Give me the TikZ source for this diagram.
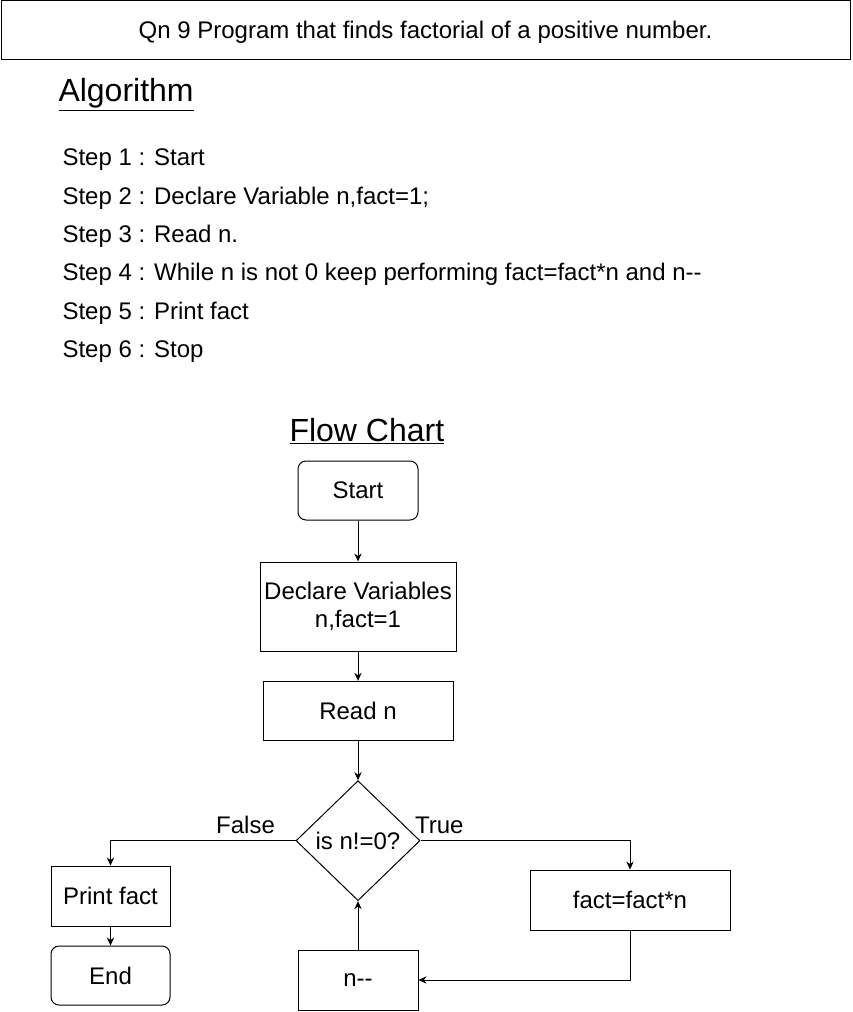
\documentclass[tikz,border=0pt]{standalone}
\usepackage{fontspec}
\setmainfont{Liberation Sans}
\usetikzlibrary{arrows.meta}
\usetikzlibrary{positioning}
\usetikzlibrary{shapes.geometric}

\begin{document}
\begin{tikzpicture}[x=0.75pt,y=-0.75pt,->,>={Stealth[length=6pt,width=5.5pt]},
					line width=0.75pt,font=\fontsize{18}{21}\selectfont]
					\tikzstyle{block}=[draw,align=center,inner sep=0pt]
					\tikzstyle{term}=[block,rounded corners=6pt]
					\tikzstyle{steptext}=[anchor=base west,inner sep=0pt]
					\tikzstyle{heading}=[anchor=base west,inner sep=0pt,font=\fontsize{24}{28}\selectfont]
					
					\useasboundingbox (0,0) rectangle (852,1012);
					
					\node[draw,minimum width=636.75pt,minimum height=44.25pt,text depth=1pt] (title) at (425.5,30.5)
					{Qn 9 Program that finds factorial of a positive number.};
					
					\node[heading] (algo) at (58,102) {\underline{Algorithm}};
					\node[steptext] (s1) at (62,165.5) {Step 1 : Start};
					\node[steptext] (s2) at (62,204.5) {Step 2 : Declare Variable n,fact=1;};
					\node[steptext] (s3) at (62,242.5) {Step 3 : Read n.};
					\node[steptext] (s4) at (62,280.5) {Step 4 : While n is not 0 keep performing fact=fact*n and n-{}-};
					\node[steptext] (s5) at (62,319.5) {Step 5 : Print fact};
					\node[steptext] (s6) at (62,357.5) {Step 6 : Stop};
					
					\node[heading] (flow) at (289,441) {\underline{Flow Chart}};
					
					\node[term,minimum width=90pt,minimum height=44.25pt] (start) at (358,490.5) {Start};
					\node[block,minimum width=147pt,minimum height=66.75pt] (declare) [below=30.75pt of start] {Declare Variables\\n,fact=1};
					\node[block,minimum width=142.5pt,minimum height=44.25pt] (read) [below=22pt of declare] {Read n};
					\node[draw,diamond,aspect=1,inner sep=0pt,minimum width=93pt,minimum height=90pt] (check) [below=29.5pt of read] {is n!=0?};
					\node[block,minimum width=89.25pt,minimum height=45pt] (print) at (110.5,896) {Print fact};
					\node[term,minimum width=89.25pt,minimum height=44.25pt] (end) at (110.5,975.5) {End};
					\node[block,minimum width=150pt,minimum height=45pt] (mult) at (630,900) {fact=fact*n};
					\node[block,minimum width=90pt,minimum height=45pt] (dec) at (358,980) {n-{}-};
					
					\path (start) edge (declare)
					(declare) edge (read)
					(read) edge (check)
					(print) edge (end)
					(dec) edge (check)
					;
					\draw (check.west) -- node[above,pos=0.27,inner sep=4.5pt] {False} (check.west -| print.north) -- (print.north);
					\draw (check.east) -- node[above,pos=0.09,inner sep=4.5pt] {True} (check.east -| mult.north) -- (mult.north);
					\draw (mult.south) |- (dec.east);
					\end{tikzpicture}
\end{document}
